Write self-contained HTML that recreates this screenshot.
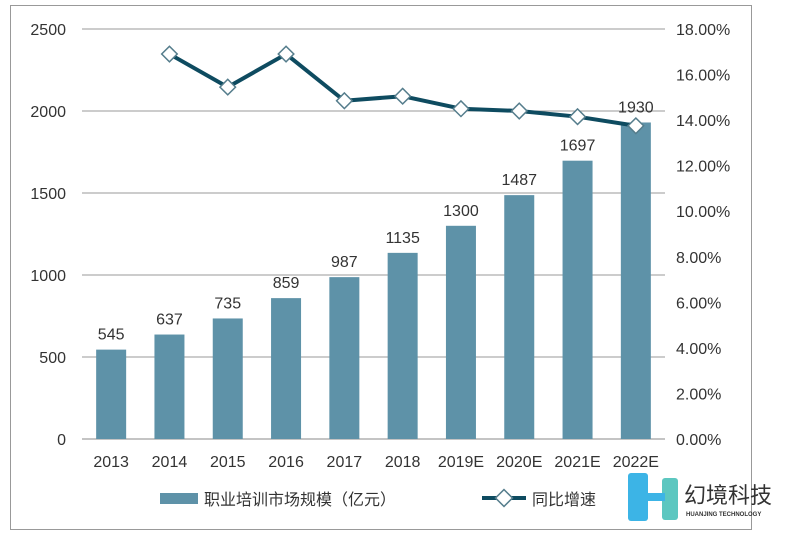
<!DOCTYPE html>
<html><head><meta charset="utf-8"><style>
body{margin:0;background:#fff;}
svg text{font-family:"Liberation Sans","Noto Sans CJK SC",sans-serif;fill:#333;}
</style></head><body>
<svg width="800" height="541" viewBox="0 0 800 541">
<rect x="10.5" y="5.5" width="741" height="524" fill="#fff" stroke="#999" stroke-width="1"/>
<g id="grid"></g><g id="bars"></g><g id="line"></g><g id="axes"></g>
<g>
<rect x="160" y="493" width="38" height="11" fill="#5e92a8"/>
<text x="204" y="505" font-size="16">职业培训市场规模（亿元）</text>
<line x1="482" y1="498" x2="526" y2="498" stroke="#0e4b60" stroke-width="4"/>
<rect x="498" y="492" width="12" height="12" transform="rotate(45 504 498)" fill="#fff" stroke="#557d8c" stroke-width="1.5"/>
<text x="532" y="505" font-size="16">同比增速</text>
</g>
<g>
<rect x="628" y="473" width="20" height="48" rx="3" fill="#3cb4e6"/>
<rect x="662" y="478" width="16" height="42" rx="3" fill="#5cc7c0"/>
<rect x="645" y="493" width="20" height="8" fill="#3cb4e6"/>
<text x="684" y="503" font-size="22" fill="#333">幻境科技</text>
<text x="686" y="516" font-size="6" font-weight="bold">HUANJING TECHNOLOGY</text>
</g>
</svg>
<script>
const categories=["2013","2014","2015","2016","2017","2018","2019E","2020E","2021E","2022E"];
const marketSize=[545,637,735,859,987,1135,1300,1487,1697,1930];
const growth=[null,16.9,15.45,16.9,14.85,15.05,14.5,14.4,14.15,13.75];
const leftTicks=[0,500,1000,1500,2000,2500];
const rightTicks=[0,2,4,6,8,10,12,14,16,18];
const NS="http://www.w3.org/2000/svg";
const x0=82,x1=665,yTop=29,yBot=439;
const yL=v=>yBot-(v/2500)*(yBot-yTop);
const yR=v=>yBot-(v/18)*(yBot-yTop);
const step=(x1-x0)/categories.length;
const xC=i=>x0+step*(i+0.5);
function mk(tag,attrs,parent){const e=document.createElementNS(NS,tag);for(const k in attrs)e.setAttribute(k,attrs[k]);parent.appendChild(e);return e;}
const grid=document.getElementById('grid'),bars=document.getElementById('bars'),line=document.getElementById('line'),axes=document.getElementById('axes');
leftTicks.forEach(t=>{
 const l=mk('line',{x1:x0,x2:x1,y1:yL(t),y2:yL(t),stroke:t===0?'#888':'#999','stroke-width':1},grid);
 
 
 const tx=mk('text',{x:66,y:yL(t)+6,'font-size':16,'text-anchor':'end'},axes);tx.textContent=t;
 
 
});
rightTicks.forEach(t=>{
 const tx=mk('text',{x:676,y:yR(t)+6,'font-size':16},axes);tx.textContent=t.toFixed(2)+'%';
 
 
});
categories.forEach((c,i)=>{
 const v=marketSize[i];
 const r=mk('rect',{x:xC(i)-15,y:yL(v),width:30,height:yBot-yL(v),fill:'#5e92a8'},bars);
 
 
 const lb=mk('text',{x:xC(i),y:yL(v)-10,'font-size':16,'text-anchor':'middle'},bars);lb.textContent=v;
 
 
 const cx=mk('text',{x:xC(i),y:467,'font-size':16,'text-anchor':'middle'},axes);cx.textContent=c;
 
 
});
const pts=growth.map((g,i)=>g==null?null:[xC(i),yR(g)]).filter(p=>p);
const pl=mk('polyline',{points:pts.map(p=>p.join(',')).join(' '),fill:'none',stroke:'#0e4b60','stroke-width':4,'stroke-linejoin':'round'},line);


pts.forEach(p=>{
 const m=mk('rect',{x:p[0]-5.5,y:p[1]-5.5,width:11,height:11,fill:'#fff',stroke:'#557d8c','stroke-width':1.5,transform:`rotate(45 ${p[0]} ${p[1]})`},line);
 
 
});
</script>
</body></html>
